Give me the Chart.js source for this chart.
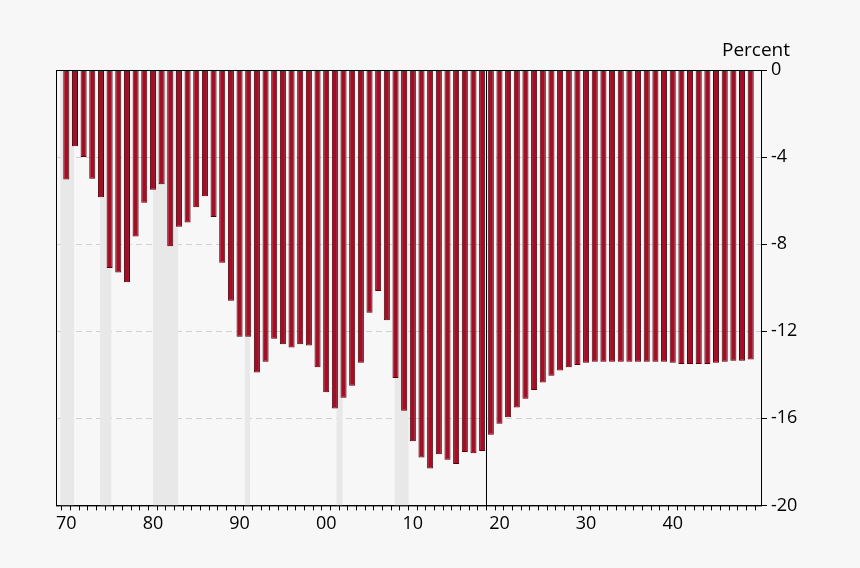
<!DOCTYPE html>
<html><head><meta charset="utf-8">
<script src="https://cdn.jsdelivr.net/npm/chart.js@4"></script>
<style>html,body{margin:0;background:#f7f7f7}#wrap{width:860px;height:568px}</style>
</head><body><div id="wrap"><canvas id="c"></canvas></div>
<script>
const years = Array.from({ length: 80 }, (_, i) => 1970 + i);
const values = [
  -5.03, -3.5, -4.0, -5.0, -5.85, -9.1, -9.3, -9.75, -7.65, -6.1,
  -5.5, -5.25, -8.1, -7.2, -7.0, -6.3, -5.8, -6.75, -8.85, -10.6,
  -12.25, -12.25, -13.9, -13.4, -12.35, -12.6, -12.75, -12.6, -12.65, -13.65,
  -14.8, -15.55, -15.05, -14.5, -13.45, -11.15, -10.15, -11.5, -14.15, -15.65,
  -17.05, -17.8, -18.3, -17.65, -17.9, -18.1, -17.55, -17.6, -17.5, -16.75,
  -16.25, -15.95, -15.5, -15.1, -14.7, -14.35, -14.05, -13.8, -13.65, -13.55,
  -13.45, -13.4, -13.4, -13.4, -13.4, -13.4, -13.4, -13.4, -13.4, -13.4,
  -13.45, -13.5, -13.5, -13.5, -13.5, -13.45, -13.4, -13.35, -13.35, -13.3
];
const recessions = [[1969.32, 1970.9], [1973.9, 1975.2], [1980.0, 1982.9], [1990.6, 1991.2], [2001.2, 2001.9], [2007.9, 2009.5]];
const projectionStart = 2018.5;

const shading = {
  id: 'shading',
  beforeDatasetsDraw(chart) {
    const { ctx, chartArea: a, scales: { x } } = chart;
    ctx.save();
    ctx.fillStyle = '#e8e8e8';
    recessions.forEach(([s, e]) => {
      const x0 = x.getPixelForValue(s), x1 = x.getPixelForValue(e);
      ctx.fillRect(x0, a.top, x1 - x0, a.bottom - a.top);
    });
    ctx.restore();
  },
  afterDatasetsDraw(chart) {
    const { ctx, chartArea: a, scales: { x } } = chart;
    const px = Math.round(x.getPixelForValue(projectionStart)) + 0.5;
    ctx.save();
    ctx.strokeStyle = '#000';
    ctx.lineWidth = 1;
    ctx.beginPath(); ctx.moveTo(px, a.top); ctx.lineTo(px, a.bottom); ctx.stroke();
    ctx.strokeRect(a.left + 0.5, a.top + 0.5, a.right - a.left, a.bottom - a.top);
    ctx.fillStyle = '#000';
    ctx.font = '19px "Open Sans"';
    ctx.textAlign = 'center';
    ctx.fillText('Percent', a.right - 5, a.top - 14);
    ctx.restore();
  }
};

new Chart(document.getElementById('c'), {
  type: 'bar',
  data: {
    datasets: [{
      data: years.map((y, i) => ({ x: y, y: values[i] })),
      backgroundColor: '#a50d24',
      borderColor: '#3a0a10',
      borderWidth: 1,
      barPercentage: 0.7,
      categoryPercentage: 1
    }]
  },
  options: {
    responsive: true, maintainAspectRatio: false, animation: false,
    layout: { padding: { left: 56, right: 0, top: 70, bottom: 30 } },
    plugins: { legend: { display: false }, tooltip: { enabled: false } },
    scales: {
      x: {
        type: 'linear', min: 1969.32, max: 2049.68,
        afterBuildTicks: s => { s.ticks = years.map(v => ({ value: v })); },
        grid: { drawOnChartArea: false, color: '#000', tickLength: 5 },
        border: { color: '#000' },
        ticks: {
          autoSkip: false, maxRotation: 0, color: '#000', font: { size: 18, family: 'Open Sans' },
          callback: v => (v % 10 === 0 ? String(v % 100).padStart(2, '0') : '')
        }
      },
      y: {
        position: 'right', min: -20, max: 0,
        afterFit: s => { s.width = 99; },
        grid: { color: '#d0d0d0', tickColor: '#000', tickLength: 6, drawTicks: true },
        border: { color: '#000', dash: [6, 4] },
        ticks: { stepSize: 4, color: '#000', font: { size: 18, family: 'Open Sans' }, padding: 4 }
      }
    }
  },
  plugins: [shading]
});
</script></body></html>
